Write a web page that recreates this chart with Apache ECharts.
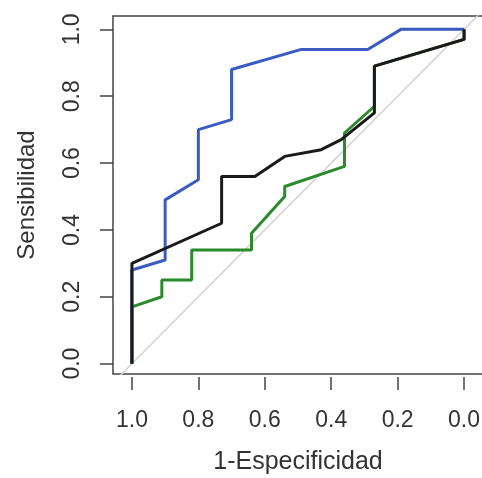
<!DOCTYPE html>
<html>
<head>
<meta charset="utf-8">
<script src="https://cdn.jsdelivr.net/npm/echarts@6/dist/echarts.min.js"></script>
<style>
  html, body { margin: 0; padding: 0; background: #fff; }
  #chart { width: 482px; height: 478px; }
</style>
</head>
<body>
<div id="chart"></div>
<script>
// tick labels
var tickValues = [0, 0.2, 0.4, 0.6, 0.8, 1.0];

// curva azul
var blueSpec = [1, 1, 0.90, 0.90, 0.80, 0.80, 0.70, 0.70, 0.49, 0.29, 0.19, 0];
var blueSens = [0, 0.28, 0.31, 0.49, 0.55, 0.70, 0.73, 0.88, 0.94, 0.94, 1.0, 1.0];

// curva negra
var blackSpec = [1, 1, 0.73, 0.73, 0.63, 0.54, 0.43, 0.37, 0.27, 0.27, 0, 0];
var blackSens = [0, 0.30, 0.42, 0.56, 0.56, 0.62, 0.64, 0.67, 0.75, 0.89, 0.97, 1.0];

// curva verde
var greenSpec = [1, 1, 0.91, 0.91, 0.82, 0.82, 0.64, 0.64, 0.54, 0.54, 0.36, 0.36, 0.27, 0.27, 0, 0];
var greenSens = [0, 0.17, 0.20, 0.25, 0.25, 0.34, 0.34, 0.39, 0.50, 0.53, 0.59, 0.69, 0.77, 0.89, 0.97, 1.0];

// diagonal de referencia
var diagSpec = [1.1, -0.1];
var diagSens = [-0.1, 1.1];

function pairs(xs, ys) {
  var out = [];
  for (var i = 0; i < xs.length; i++) out.push([xs[i], ys[i]]);
  return out;
}

function lineSeries(xs, ys, color, width) {
  return {
    type: 'line',
    data: pairs(xs, ys),
    showSymbol: false,
    symbol: 'none',
    clip: true,
    animation: false,
    lineStyle: { color: color, width: width }
  };
}

var chart = echarts.init(document.getElementById('chart'));
var fontFam = 'Liberation Sans, Arial, sans-serif';

chart.setOption({
  animation: false,
  grid: {
    left: 113, top: 16, width: 370, height: 358,
    outerBoundsMode: 'none',
    containLabel: false,
    show: true, borderColor: '#444', borderWidth: 1.5, backgroundColor: 'transparent'
  },
  xAxis: {
    type: 'value',
    inverse: true,
    min: -0.057, max: 1.057,
    offset: 3,
    splitLine: { show: false },
    axisLine: { show: false, onZero: false },
    axisTick: { show: true, length: 13, customValues: tickValues, lineStyle: { color: '#444', width: 1.5 } },
    axisLabel: {
      customValues: tickValues, margin: 32,
      fontSize: 23, fontFamily: fontFam, color: '#333',
      formatter: function (v) { return v.toFixed(1); }
    },
    name: '1-Especificidad',
    nameLocation: 'middle',
    nameGap: 73,
    nameTextStyle: { fontSize: 25, fontFamily: fontFam, color: '#333' }
  },
  yAxis: {
    type: 'value',
    min: -0.031, max: 1.040,
    splitLine: { show: false },
    axisLine: { show: false, onZero: false },
    axisTick: { show: true, length: 13, customValues: tickValues, lineStyle: { color: '#444', width: 1.5 } },
    axisLabel: {
      customValues: tickValues, margin: 29, rotate: 90,
      fontSize: 23, fontFamily: fontFam, color: '#333',
      formatter: function (v) { return v.toFixed(1); }
    },
    name: 'Sensibilidad',
    nameLocation: 'middle',
    nameGap: 74,
    nameTextStyle: { fontSize: 24, fontFamily: fontFam, color: '#333' }
  },
  series: [
    lineSeries(diagSpec, diagSens, '#d2d2d2', 1.5),
    lineSeries(greenSpec, greenSens, '#2b8a2b', 3),
    lineSeries(blueSpec, blueSens, '#3a5bc0', 3),
    lineSeries(blackSpec, blackSens, '#1a1a1a', 3)
  ]
});
</script>
</body>
</html>
